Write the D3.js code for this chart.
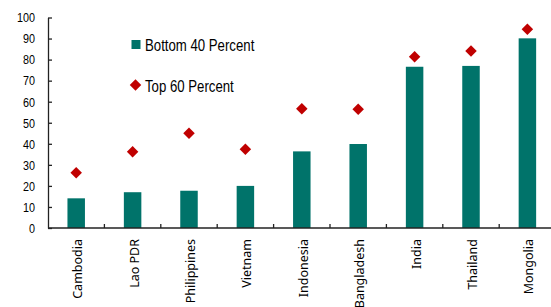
<!DOCTYPE html>
<html>
<head>
<meta charset="utf-8">
<script src="https://cdn.jsdelivr.net/npm/d3@7"></script>
<style>
  body { margin: 0; background: #fff; }
  svg { display: block; }
  .narrow { font-family: "Liberation Sans Narrow", "Arial Narrow", "Liberation Sans", Arial, sans-serif; }
</style>
</head>
<body>
<svg id="chart" width="551" height="307"></svg>
<script>
var countries = ['Cambodia', 'Lao PDR', 'Philippines', 'Vietnam', 'Indonesia',
                 'Bangladesh', 'India', 'Thailand', 'Mongolia'];
var bottom40 = [14.1, 17.0, 17.7, 20.0, 36.4, 39.9, 76.6, 77.0, 90.1];
var top60    = [26.3, 36.2, 45.0, 37.4, 56.7, 56.4, 81.4, 84.1, 94.4];
var yTicks   = [0, 10, 20, 30, 40, 50, 60, 70, 80, 90, 100];
var legendNames = ['Bottom 40 Percent', 'Top 60 Percent'];

var svg = d3.select('#chart');
var teal = '#00736a', red = '#c00000';
var squeeze = ' scale(0.8,1)'; /* no narrow face installed, fake it */

var x = d3.scaleBand().domain(countries).range([48, 555.6]).paddingInner(0.69).paddingOuter(0.345),
    y = d3.scaleLinear().domain([0, 100]).range([228, 17.5]);

/* bars */
svg.append('g').selectAll('rect')
   .data(countries)
   .enter().append('rect')
     .attr('x', function (d) { return x(d); })
     .attr('y', function (d, i) { return y(bottom40[i]); })
     .attr('width', x.bandwidth())
     .attr('height', function (d, i) { return y(0) - y(bottom40[i]); })
     .attr('fill', teal);

/* diamonds */
var diamond = d3.symbol().type(d3.symbolSquare).size(66);
svg.append('g').selectAll('path')
   .data(countries)
   .enter().append('path')
     .attr('d', diamond)
     .attr('fill', red)
     .attr('transform', function (d, i) {
         return 'translate(' + (x(d) + x.bandwidth() / 2) + ',' + y(top60[i]) + ') rotate(45)';
     });

/* y axis */
var yAxis = svg.append('g')
   .attr('transform', 'translate(48,0)')
   .call(d3.axisLeft(y).tickValues(yTicks).tickSizeInner(-4).tickSizeOuter(0));
yAxis.select('.domain').attr('stroke', '#222').attr('stroke-width', 1.3);
yAxis.selectAll('.tick line').attr('stroke', '#222').attr('stroke-width', 1.3);
yAxis.selectAll('text')
     .attr('class', 'narrow')
     .attr('font-size', 13.5)
     .attr('fill', '#000')
     .attr('x', 0)
     .attr('transform', 'translate(-13,0)' + squeeze);

/* x axis: ticks between categories */
var xAxis = svg.append('g').attr('transform', 'translate(0,228)');
xAxis.append('line')
     .attr('x1', 48).attr('x2', 551).attr('y1', 0).attr('y2', 0)
     .attr('stroke', '#222').attr('stroke-width', 1.3);
xAxis.selectAll('line.tk')
     .data(countries.slice(1))
     .enter().append('line')
       .attr('class', 'tk')
       .attr('x1', function (d) { return x(d) - x.step() * x.paddingInner() / 2; })
       .attr('x2', function (d) { return x(d) - x.step() * x.paddingInner() / 2; })
       .attr('y1', 0).attr('y2', -4)
       .attr('stroke', '#222').attr('stroke-width', 1.3);
xAxis.selectAll('text')
     .data(countries)
     .enter().append('text')
       .attr('transform', function (d) {
           return 'translate(' + (x(d) + x.bandwidth() / 2 + 6) + ',11) rotate(-90)';
       })
       .attr('text-anchor', 'end')
       .attr('font-family', '"Noto Sans", "Open Sans", sans-serif')
       .attr('font-size', 12.5)
       .attr('fill', '#000')
       .text(function (d) { return d; });

/* legend */
var lg = svg.append('g');
lg.append('rect').attr('x', 131.5).attr('y', 40).attr('width', 9).attr('height', 9).attr('fill', teal);
lg.append('path').attr('d', diamond).attr('fill', red)
  .attr('transform', 'translate(135.5,85) rotate(45)');
lg.selectAll('text')
  .data(legendNames)
  .enter().append('text')
    .attr('class', 'narrow')
    .attr('transform', function (d, i) { return 'translate(145,' + (50.5 + i * 41) + ')' + squeeze; })
    .attr('font-size', 16.5)
    .attr('fill', '#000')
    .text(function (d) { return d; });
</script>
</body>
</html>
